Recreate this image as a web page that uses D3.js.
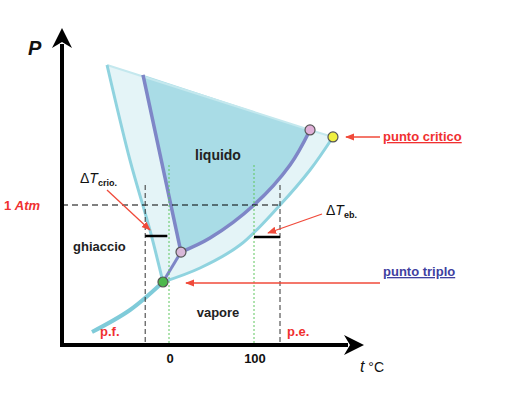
<!DOCTYPE html>
<html><head><meta charset="utf-8">
<script src="https://cdn.jsdelivr.net/npm/d3@7"></script>
<style>body{margin:0;background:#fff}text{font-family:"Liberation Sans",Arial,sans-serif}</style>
</head><body><div id="chart"></div>
<script>
// temperature (°C) / pressure (atm) points
const outerLeft = [[-72.9,2.0],[-45.9,1.32],[-22.4,0.82],[-7.1,0.45]];
const outerRight = [[-7.1,0.45],[36.5,0.55],[83.5,0.714],[130.6,1.0],[165.9,1.25],[192.9,1.486]];
const liquidRight = [[14.1,0.664],[48.2,0.764],[100,1.0],[142.4,1.286],[165.9,1.536]];
const meltLine = [[-30.6,1.93],[14.1,0.664]];
const sublim = [[-90.6,0.093],[-45.9,0.25],[-7.1,0.45],[14.1,0.664]];
const topEdge = [[-72.9,2.0],[165.9,1.536],[192.9,1.486]];
const tFreeze = -28, tBoil = 130.6, tTicks = [0, 100];
const triple = [-7.1,0.45], triple2 = [14.1,0.664], crit = [165.9,1.536], crit2 = [192.9,1.486];

const svg = d3.select("#chart").append("svg").attr("width",514).attr("height",417);
const x = d3.scaleLinear().domain([0,100]).range([169,254]);
const y = d3.scaleLinear().domain([0,1]).range([345,205]);
const line = d3.line().x(d=>x(d[0])).y(d=>y(d[1])).curve(d3.curveCatmullRom);
const lin = d3.line().x(d=>x(d[0])).y(d=>y(d[1]));

svg.append("defs").html('<marker id="ar" viewBox="0 0 10 10" refX="9" refY="5" markerWidth="7" markerHeight="7" orient="auto"><path d="M0,1L10,5L0,9z" fill="#f04a3a"/></marker><marker id="ax" viewBox="0 0 10 10" refX="2" refY="5" markerWidth="5" markerHeight="5" orient="auto"><path d="M0,0L10,5L0,10L3,5z" fill="#000"/></marker>');

// light region (solution)
const outerPts = topEdge.concat(outerRight.slice().reverse().slice(1), outerLeft.slice().reverse().slice(1));
svg.append("path").attr("d", d3.line().x(d=>x(d[0])).y(d=>y(d[1])).curve(d3.curveLinearClosed)(outerPts))
  .attr("fill","#e4f4f7");
// liquid region
const liqPts = [meltLine[0], crit].concat(liquidRight.slice().reverse().slice(1));
svg.append("path").attr("d", d3.line().x(d=>x(d[0])).y(d=>y(d[1])).curve(d3.curveLinearClosed)(liqPts))
  .attr("fill","#a9dce6");
svg.append("path").attr("d", lin(topEdge)).attr("stroke","#c4e8ee").attr("stroke-width",2).attr("fill","none");

// boundary curves
svg.append("path").attr("d", line(outerLeft)).attr("stroke","#8fd3df").attr("stroke-width",3).attr("fill","none");
svg.append("path").attr("d", line(outerRight)).attr("stroke","#8fd3df").attr("stroke-width",3).attr("fill","none");
svg.append("path").attr("d", line(sublim.slice(0,3))).attr("stroke","#7fcbd9").attr("stroke-width",4).attr("fill","none");
svg.append("path").attr("d", line(sublim.slice(2))).attr("stroke","#7e86c7").attr("stroke-width",3).attr("fill","none");
svg.append("path").attr("d", lin(meltLine)).attr("stroke","#7e86c7").attr("stroke-width",3.5).attr("fill","none");
svg.append("path").attr("d", line(liquidRight)).attr("stroke","#7e86c7").attr("stroke-width",3.5).attr("fill","none");

// guide lines
svg.append("line").attr("x1",62).attr("x2",x(tBoil)).attr("y1",y(1)).attr("y2",y(1)).attr("stroke","#000").attr("stroke-dasharray","6,4");
[tFreeze,tBoil].forEach(t=>svg.append("line").attr("x1",x(t)).attr("x2",x(t)).attr("y1",185).attr("y2",345).attr("stroke","#333").attr("stroke-dasharray","5,3"));
tTicks.forEach(t=>svg.append("line").attr("x1",x(t)).attr("x2",x(t)).attr("y1",165).attr("y2",345).attr("stroke","#5fc65f").attr("stroke-dasharray","2,2"));
svg.append("line").attr("x1",x(tFreeze)).attr("x2",x(-2)).attr("y1",236).attr("y2",236).attr("stroke","#000").attr("stroke-width",2.5);
svg.append("line").attr("x1",x(100)).attr("x2",x(tBoil)).attr("y1",237).attr("y2",237).attr("stroke","#000").attr("stroke-width",2.5);

// axes
svg.append("line").attr("x1",62).attr("y1",345).attr("x2",62).attr("y2",44).attr("stroke","#000").attr("stroke-width",4).attr("marker-end","url(#ax)");
svg.append("line").attr("x1",60).attr("y1",345).attr("x2",348).attr("y2",345).attr("stroke","#000").attr("stroke-width",4).attr("marker-end","url(#ax)");

// points
const pt=(p,c)=>svg.append("circle").attr("cx",x(p[0])).attr("cy",y(p[1])).attr("r",5).attr("fill",c).attr("stroke","#555").attr("stroke-width",1.2);
pt(triple,"#4cb84c"); pt(triple2,"#d8b8d8"); pt(crit,"#e0b0d8"); pt(crit2,"#f0f040");

// arrows
const arrow=(x1,y1,x2,y2)=>svg.append("line").attr("x1",x1).attr("y1",y1).attr("x2",x2).attr("y2",y2).attr("stroke","#f04a3a").attr("stroke-width",1.3).attr("marker-end","url(#ar)");
arrow(107,190,150,230); arrow(322,214,268,233); arrow(380,137,346,137); arrow(380,283,186,283);

// text
const txt=(s,xx,yy,o={})=>svg.append("text").attr("x",xx).attr("y",yy).attr("font-size",o.size||13).attr("font-weight",o.w||"bold").attr("font-style",o.it||"normal").attr("fill",o.c||"#222").attr("text-anchor",o.a||"start").text(s);
txt("P",28,55,{size:20,it:"italic",c:"#111"});
const atm=svg.append("text").attr("x",4).attr("y",210).attr("font-size",13).attr("font-weight","bold").attr("fill","#f03030");
atm.append("tspan").text("1 "); atm.append("tspan").attr("font-style","italic").text("Atm");
txt("liquido",218,160,{size:14,a:"middle"});
txt("ghiaccio",73,251,{size:13});
txt("vapore",218,317,{size:13,a:"middle"});
txt("p.f.",100,336,{size:13,c:"#f03030"});
txt("p.e.",287,336,{size:13,c:"#f03030"});
tTicks.forEach(t=>txt(String(t),x(t)+1,363,{size:13,a:"middle",c:"#111"}));
const tc=svg.append("text").attr("x",360).attr("y",372).attr("font-size",16).attr("fill","#111");
tc.append("tspan").attr("font-style","italic").text("t"); tc.append("tspan").attr("font-size",14).text("  °C");
const dT=(xx,yy,sub)=>{const e=svg.append("text").attr("x",xx).attr("y",yy).attr("font-size",14).attr("fill","#111");
 e.append("tspan").text("\u0394"); e.append("tspan").attr("font-style","italic").text("T");
 e.append("tspan").attr("font-size",9).attr("font-weight","bold").attr("dy",3).text(sub);};
dT(80,183,"crio."); dT(326,215,"eb.");
txt("punto critico",383,141,{size:13,c:"#f03030"}).attr("text-decoration","underline");
txt("punto triplo",383,276,{size:13,c:"#4040a0"}).attr("text-decoration","underline");
</script></body></html>
